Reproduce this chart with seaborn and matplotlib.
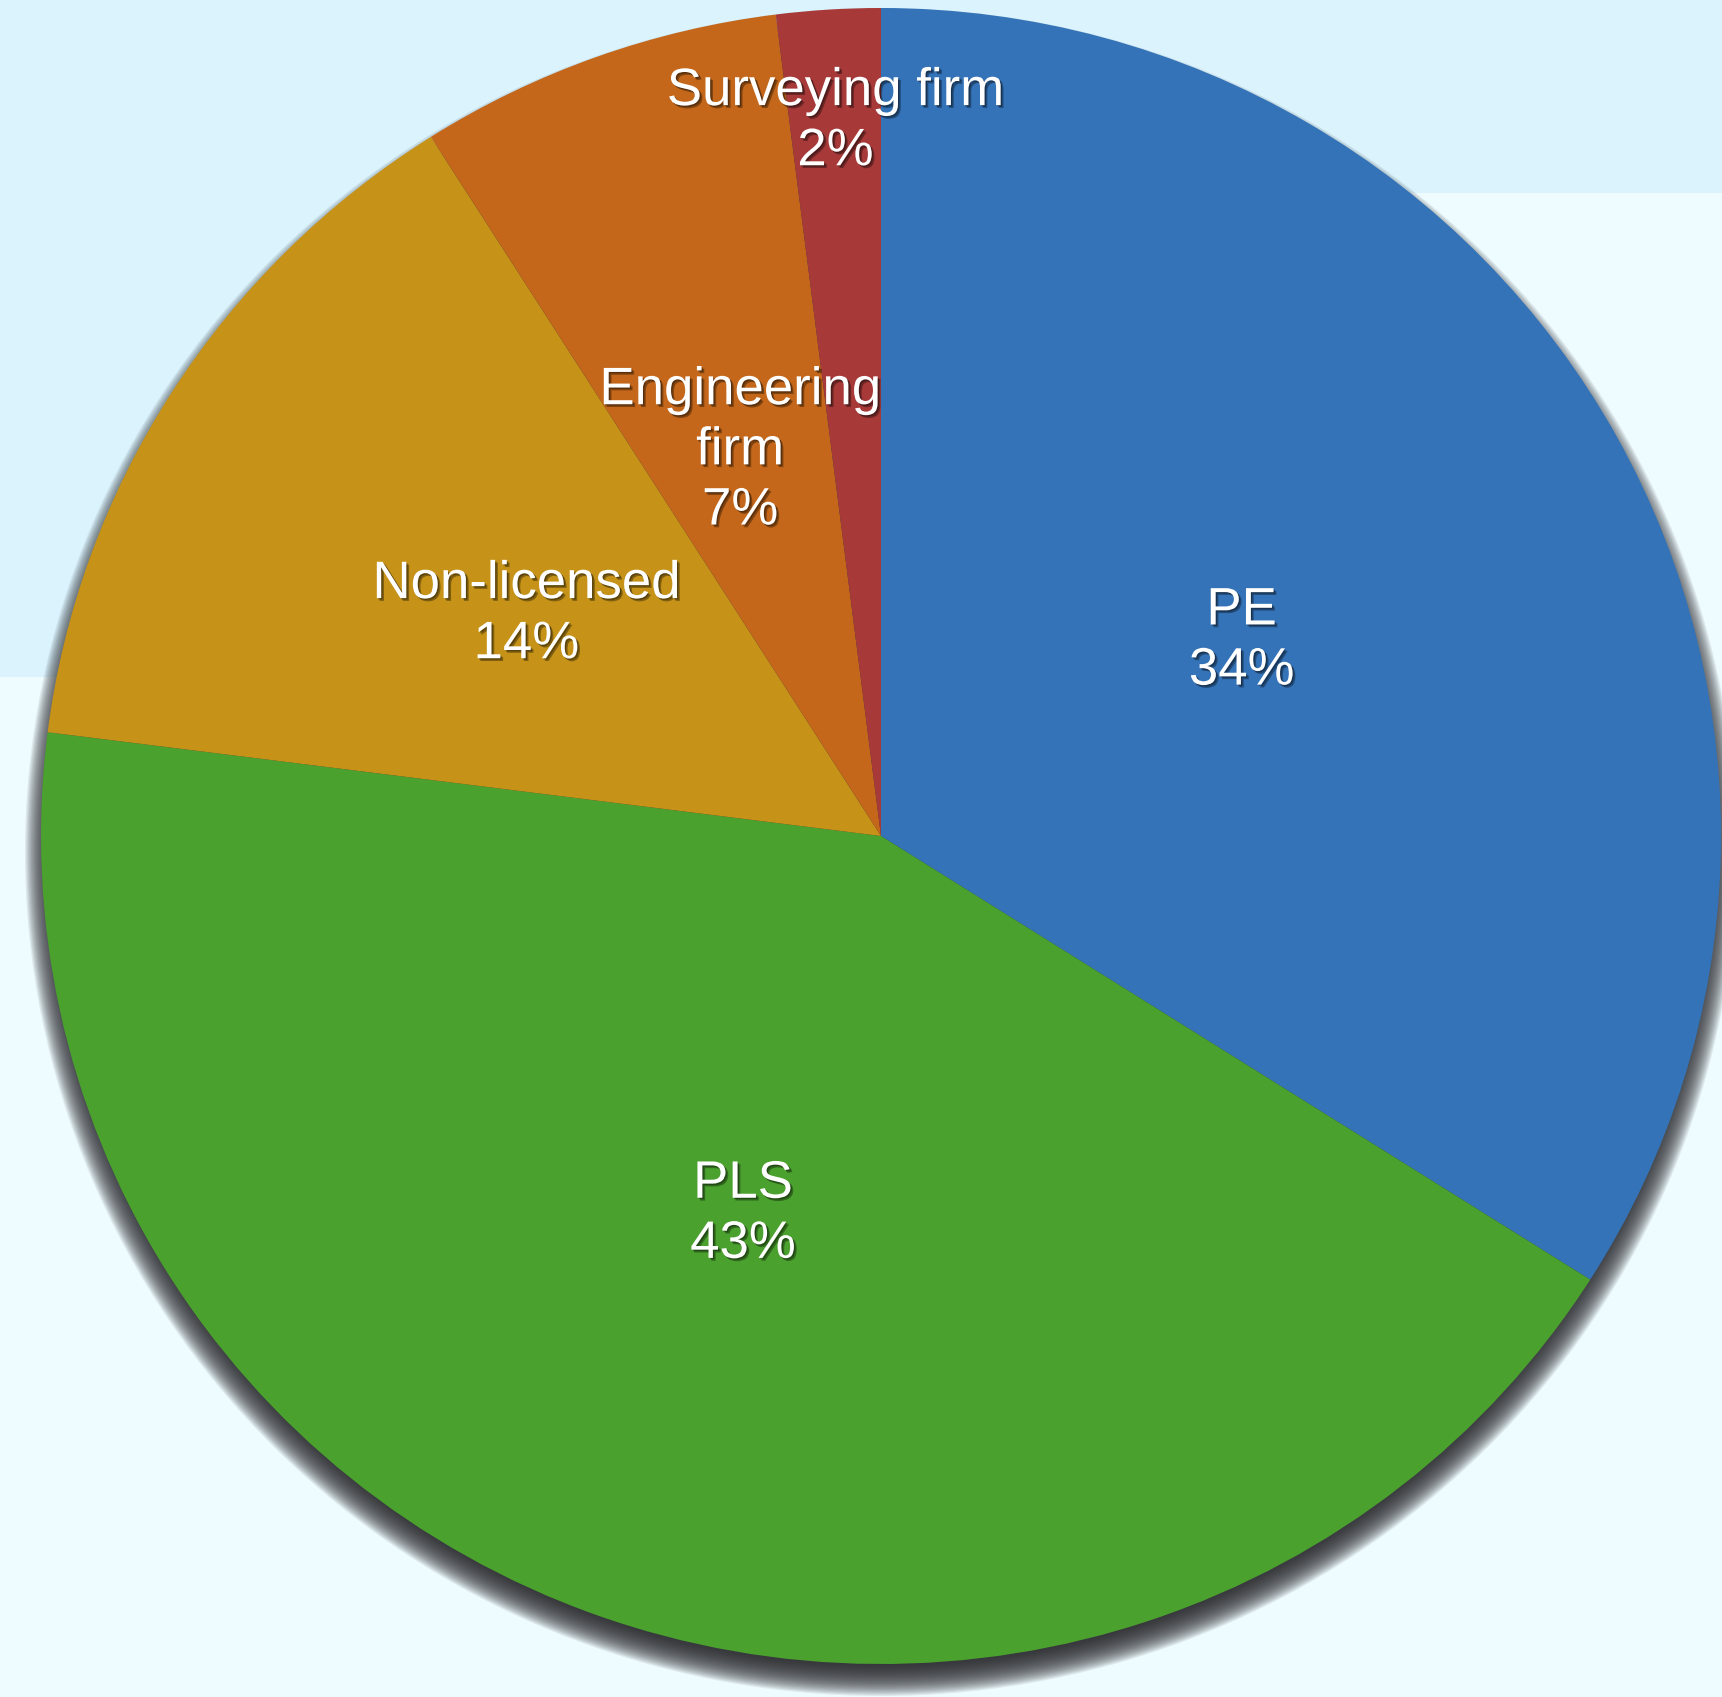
import numpy as np
import matplotlib
matplotlib.use("Agg")
import matplotlib.pyplot as plt
import matplotlib.patheffects as pe
from matplotlib.patches import Ellipse, Polygon
import seaborn as sns

# ---- data ----
categories = ["PE", "PLS", "Non-licensed", "Engineering\nfirm", "Surveying firm"]
shares = [34, 43, 14, 7, 2]
colors = ["#3473b8", "#4aa12e", "#c69318", "#c4671a", "#a73a39"]
label_radius = [0.49, 0.485, 0.50, 0.495, 0.865]

sns.set_theme(style="white")
plt.rcParams["font.family"] = ["Liberation Sans", "DejaVu Sans"]

W, H = 1722, 1697
fig = plt.figure(figsize=(W / 100, H / 100), dpi=100)

# background axes in pixel coordinates
bg = fig.add_axes([0, 0, 1, 1], zorder=0)
bg.set_xlim(0, W)
bg.set_ylim(H, 0)
bg.axis("off")
bg.add_patch(Polygon([(0, 0), (W, 0), (W, H), (0, H)], closed=True,
                     facecolor="#daf3fd", edgecolor="none"))
bg.add_patch(Polygon([(0, H), (0, 677), (881, 677), (881, 193), (W, 193), (W, H)],
                     closed=True, facecolor="#eefcff", edgecolor="none"))

# pie axes (data units: 1 = radius)
cx, cy, rx, ry = 881, 836, 840, 828
ax = fig.add_axes([0, 0, 1, 1], zorder=1)
ax.patch.set_alpha(0)

# soft drop shadow (mostly below the pie)
N = 26
for k in range(N):
    grow = -14 + 30 * (N - 1 - k) / (N - 1)
    e = Ellipse((0, -16 / ry), 2 * (rx + grow) / rx, 2 * (ry + grow) / ry,
                facecolor="#2a2a2e", edgecolor="none", alpha=0.085, zorder=0)
    ax.add_patch(e)

wedges, _ = ax.pie(shares, colors=colors, startangle=90, counterclock=False,
                   radius=1.0, center=(0, 0),
                   wedgeprops=dict(linewidth=0, edgecolor="none"))
for w in wedges:
    w.set_zorder(2)

shadow_fx = [pe.SimplePatchShadow(offset=(2, -2), shadow_rgbFace="black", alpha=0.35),
             pe.SimplePatchShadow(offset=(1, -1), shadow_rgbFace="black", alpha=0.3),
             pe.Normal()]
for w, lab, val, rr in zip(wedges, categories, shares, label_radius):
    ang = np.deg2rad((w.theta1 + w.theta2) / 2)
    x, y = rr * np.cos(ang), rr * np.sin(ang)
    t = ax.text(x, y, f"{lab}\n{val}%", ha="center", va="center", multialignment="center",
                color="white", fontsize=38, linespacing=1.26, zorder=5)
    t.set_path_effects(shadow_fx)

ax.set_aspect("auto")
ax.set_xlim((0 - cx) / rx, (W - cx) / rx)
ax.set_ylim((cy - H) / ry, cy / ry)
ax.axis("off")

fig.savefig("out.png", dpi=100)
